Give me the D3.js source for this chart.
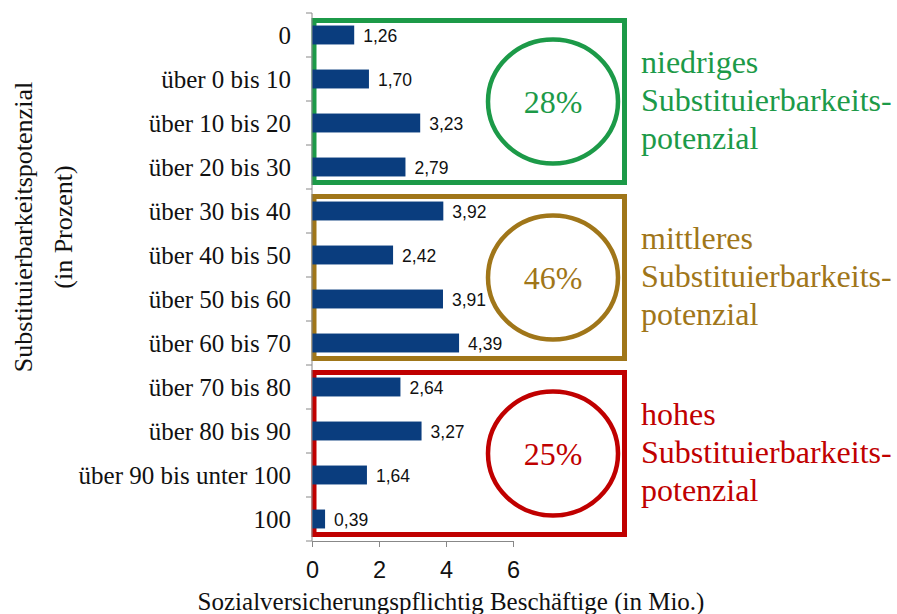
<!DOCTYPE html>
<html>
<head>
<meta charset="utf-8">
<script src="https://cdn.jsdelivr.net/npm/d3@7"></script>
<style>
  body { margin: 0; background: #fff; }
  .serif { font-family: 'Liberation Serif', 'Times New Roman', 'DejaVu Serif', serif; }
  .sans { font-family: 'Liberation Sans', Arial, sans-serif; }
</style>
</head>
<body>
<script>
const categories = ['0', 'über 0 bis 10', 'über 10 bis 20', 'über 20 bis 30', 'über 30 bis 40', 'über 40 bis 50',
  'über 50 bis 60', 'über 60 bis 70', 'über 70 bis 80', 'über 80 bis 90', 'über 90 bis unter 100', '100'];
const values = [1.26, 1.70, 3.23, 2.79, 3.92, 2.42, 3.91, 4.39, 2.64, 3.27, 1.64, 0.39];
const xTicks = [0, 2, 4, 6];
const groupNames = [
  ['niedriges', 'Substituierbarkeits-', 'potenzial'],
  ['mittleres', 'Substituierbarkeits-', 'potenzial'],
  ['hohes', 'Substituierbarkeits-', 'potenzial']
];
const groupShares = ['28%', '46%', '25%'];
const groupFirst = ['0', 'über 30 bis 40', 'über 70 bis 80'];
const groupLast = ['über 20 bis 30', 'über 60 bis 70', '100'];
const groupColors = ['#1c9a48', '#a07619', '#c00000'];

const width = 897;
const height = 614;

const svg = d3.select('body')
  .append('svg')
  .attr('width', width)
  .attr('height', height);

const x = d3.scaleLinear()
  .domain([0, 6])
  .range([312, 513]);

const y = d3.scaleBand()
  .domain(categories)
  .range([13, 541])
  .paddingInner(0.57)
  .paddingOuter(0.285);

const step = y.step();
const bandTop = c => y(c) - y.paddingInner() * step / 2;

// group boxes, circles and labels
groupShares.forEach((share, i) => {
  const top = bandTop(groupFirst[i]) + 7.5;
  const bottom = bandTop(groupLast[i]) + step - 6.5;
  const col = groupColors[i];
  svg.append('rect')
    .attr('x', 314)
    .attr('y', top)
    .attr('width', 624.5 - 314)
    .attr('height', bottom - top)
    .attr('fill', 'none')
    .attr('stroke', col)
    .attr('stroke-width', 5);

  const cy = (top + bottom) / 2;
  svg.append('ellipse')
    .attr('cx', 553)
    .attr('cy', cy)
    .attr('rx', 65)
    .attr('ry', 62)
    .attr('fill', 'none')
    .attr('stroke', col)
    .attr('stroke-width', 4.5);

  svg.append('text')
    .attr('class', 'serif')
    .text(share)
    .attr('x', 553)
    .attr('y', cy + 11)
    .attr('text-anchor', 'middle')
    .style('font-size', '32px')
    .attr('fill', col);

  svg.append('text')
    .attr('class', 'serif')
    .style('font-size', '32px')
    .attr('fill', col)
    .selectAll('tspan')
    .data(groupNames[i])
    .enter()
    .append('tspan')
    .attr('x', 641)
    .attr('y', (d, j) => cy - 29 + j * 38)
    .text(d => d);
});

// bars
svg.selectAll('rect.bar')
  .data(values)
  .enter()
  .append('rect')
  .attr('class', 'bar')
  .attr('x', x(0))
  .attr('y', (d, i) => y(categories[i]))
  .attr('width', d => x(d) - x(0))
  .attr('height', y.bandwidth())
  .attr('fill', '#0a3d7e');

svg.selectAll('text.val')
  .data(values)
  .enter()
  .append('text')
  .attr('class', 'val sans')
  .attr('x', d => x(d) + 9)
  .attr('y', (d, i) => y(categories[i]) + y.bandwidth() / 2 + 6.5)
  .style('font-size', '17.5px')
  .attr('fill', '#111')
  .text(d => d.toFixed(2).replace('.', ','));

// y axis
const yAxis = svg.append('g')
  .attr('transform', `translate(${x(0)},0)`)
  .call(d3.axisLeft(y).tickSize(0).tickPadding(21));
yAxis.attr('font-family', null).attr('font-size', null);
yAxis.select('.domain').remove();
yAxis.selectAll('text')
  .attr('class', 'serif')
  .style('font-size', '25px')
  .attr('fill', '#111')
  .attr('dy', '0.34em');

svg.append('line')
  .attr('x1', x(0)).attr('x2', x(0))
  .attr('y1', 13).attr('y2', 541)
  .attr('stroke', '#888');
svg.selectAll('line.ytick')
  .data(d3.range(categories.length + 1))
  .enter()
  .append('line')
  .attr('class', 'ytick')
  .attr('x1', x(0) - 6).attr('x2', x(0))
  .attr('y1', i => 13 + i * step).attr('y2', i => 13 + i * step)
  .attr('stroke', '#888');

// x axis
const xAxis = svg.append('g')
  .attr('transform', 'translate(0,541)')
  .call(d3.axisBottom(x).tickValues(xTicks).tickFormat(d3.format('d'))
    .tickSize(6).tickSizeOuter(0).tickPadding(14));
xAxis.attr('font-family', null).attr('font-size', null);
xAxis.select('.domain').attr('stroke', '#888');
xAxis.selectAll('.tick line').attr('stroke', '#888');
xAxis.selectAll('text')
  .attr('class', 'sans')
  .style('font-size', '23.5px')
  .attr('fill', '#111');

svg.append('text')
  .attr('class', 'serif')
  .text('Sozialversicherungspflichtig Beschäftige (in Mio.)')
  .attr('x', 451)
  .attr('y', 610)
  .attr('text-anchor', 'middle')
  .style('font-size', '25px')
  .attr('fill', '#111');

svg.append('text')
  .attr('class', 'serif')
  .attr('transform', 'translate(0,227) rotate(-90)')
  .attr('text-anchor', 'middle')
  .style('font-size', '26px')
  .attr('fill', '#111')
  .selectAll('tspan')
  .data(['Substituierbarkeitspotenzial', '(in Prozent)'])
  .enter()
  .append('tspan')
  .attr('x', 0)
  .attr('y', (d, i) => 32 + i * 40)
  .text(d => d);
</script>
</body>
</html>
